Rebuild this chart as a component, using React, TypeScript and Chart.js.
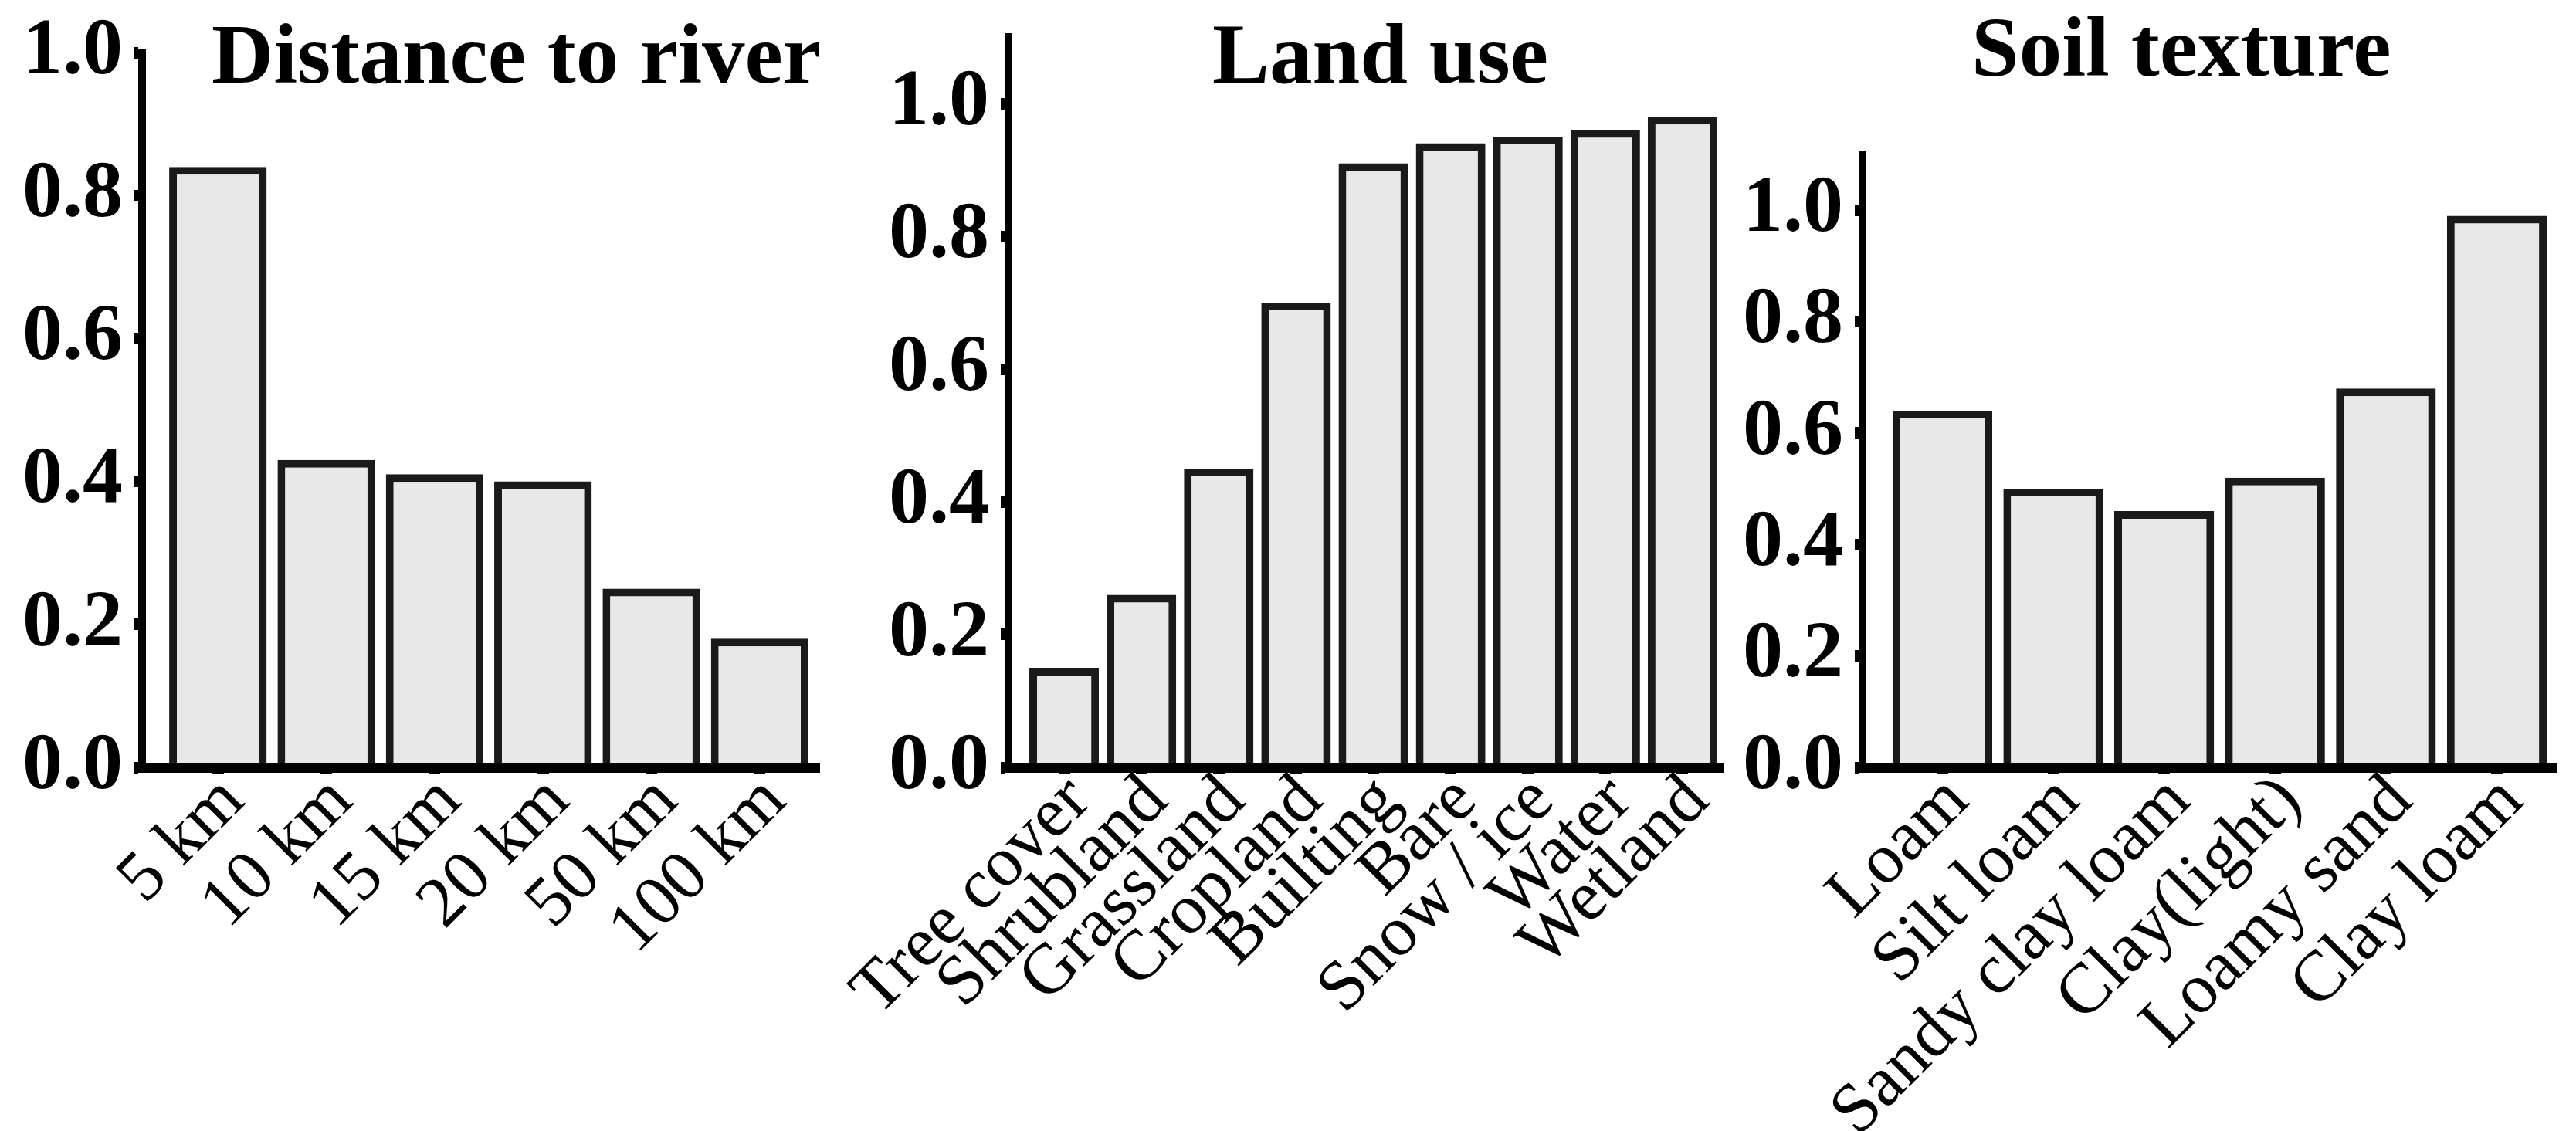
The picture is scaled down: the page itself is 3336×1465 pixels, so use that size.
import React, { useEffect, useRef } from "react";
import { Chart, registerables } from "chart.js";

Chart.register(...registerables);

// ---- data ----
const distLabels = ["5 km", "10 km", "15 km", "20 km", "50 km", "100 km"];
const distValues = [0.84, 0.43, 0.41, 0.4, 0.25, 0.18];

const landLabels = ["Tree cover", "Shrubland", "Grassland", "Cropland", "Builting", "Bare", "Snow / ice", "Water", "Wetland"];
const landValues = [0.15, 0.26, 0.45, 0.7, 0.91, 0.94, 0.95, 0.96, 0.98];

const soilLabels = ["Loam", "Silt loam", "Sandy clay loam", "Clay(light)", "Loamy sand", "Clay loam"];
const soilValues = [0.64, 0.5, 0.46, 0.52, 0.68, 0.99];

const yTicks = [0, 0.2, 0.4, 0.6, 0.8, 1.0];

// ---- layout / style ----
const W = 3336;
const H = 1465;
const BOTTOM = 994;
const Y_W = 170;
const SERIF = '"Liberation Serif", "Times New Roman", serif';

type PanelSpec = {
  title: string;
  labels: string[];
  values: number[];
  yMax: number;
  axisX: number;
  top: number;
  right: number;
  xMin: number;
  xMax: number;
  titleX: number;
  titleY: number;
};

const panels: PanelSpec[] = [
  { title: "Distance to river", labels: distLabels, values: distValues, yMax: 1.0, axisX: 184, top: 68, right: 1061, xMin: -0.7, xMax: 5.55, titleX: 274, titleY: 107 },
  { title: "Land use", labels: landLabels, values: landValues, yMax: 1.1, axisX: 1306, top: 48, right: 2232, xMin: -0.72, xMax: 8.53, titleX: 1570, titleY: 107 },
  { title: "Soil texture", labels: soilLabels, values: soilValues, yMax: 1.1, axisX: 2412, top: 200, right: 3311, xMin: -0.72, xMax: 5.54, titleX: 2553, titleY: 98 },
];

function Panel({ spec }: { spec: PanelSpec }) {
  const ref = useRef<HTMLCanvasElement | null>(null);
  useEffect(() => {
    if (!ref.current) return;
    const titlePlugin = {
      id: "panelTitle",
      afterDraw(chart: any) {
        const ctx = chart.ctx;
        ctx.save();
        ctx.font = `bold 111px ${SERIF}`;
        ctx.fillStyle = "#000";
        ctx.textAlign = "left";
        ctx.textBaseline = "alphabetic";
        ctx.fillText(spec.title, spec.titleX, spec.titleY);
        ctx.restore();
      },
    };
    const chart = new Chart(ref.current, {
      type: "bar",
      data: {
        datasets: [
          {
            data: spec.values.map((v, i) => ({ x: i, y: v })),
            backgroundColor: "#e8e8e8",
            borderColor: "#1a1a1a",
            borderWidth: 10,
            borderSkipped: "start",
            categoryPercentage: 1,
            barPercentage: 0.9,
          },
        ],
      },
      options: {
        responsive: false,
        animation: false,
        devicePixelRatio: 1,
        layout: { padding: { left: spec.axisX - Y_W, right: W - spec.right, top: spec.top, bottom: 0 } },
        plugins: { legend: { display: false }, tooltip: { enabled: false }, title: { display: false } },
        scales: {
          x: {
            type: "linear",
            min: spec.xMin,
            max: spec.xMax,
            offset: false,
            afterBuildTicks: (s: any) => {
              s.ticks = spec.labels.map((_, i) => ({ value: i }));
            },
            afterFit: (s: any) => {
              s.height = H - BOTTOM;
              s.paddingLeft = 0;
              s.paddingRight = 0;
            },
            grid: { display: true, offset: false, drawOnChartArea: false, drawTicks: true, tickLength: 9, tickWidth: 15, tickColor: "#000" },
            border: { display: true, color: "#000", width: 13, z: 1 },
            ticks: {
              autoSkip: false,
              maxRotation: 45,
              minRotation: 45,
              padding: -19,
              labelOffset: 20,
              color: "#000",
              font: { family: SERIF, size: 92 },
              callback: (v: any) => spec.labels[Math.round(Number(v))] ?? "",
            },
          },
          y: {
            type: "linear",
            min: 0,
            max: spec.yMax,
            afterBuildTicks: (s: any) => {
              s.ticks = yTicks.map((v) => ({ value: v }));
            },
            afterFit: (s: any) => {
              s.width = Y_W;
              s.paddingTop = 0;
              s.paddingBottom = 0;
            },
            grid: { display: true, drawOnChartArea: false, drawTicks: true, tickLength: 10, tickWidth: 15, tickColor: "#000" },
            border: { display: true, color: "#000", width: 10, z: 1 },
            ticks: {
              padding: 15,
              color: "#000",
              font: { family: SERIF, size: 104, weight: "bold" },
              callback: (v: any) => Number(v).toFixed(1),
            },
          },
        },
      },
      plugins: [titlePlugin],
    } as any);
    return () => chart.destroy();
  }, [spec]);
  return (
    <canvas
      ref={ref}
      width={W}
      height={H}
      style={{ position: "absolute", left: 0, top: 0, width: W, height: H, display: "block" }}
    />
  );
}

export default function App() {
  return (
    <div style={{ position: "absolute", left: 0, top: 0, width: W, height: H, background: "#fff", overflow: "hidden" }}>
      {panels.map((p) => (
        <Panel key={p.title} spec={p} />
      ))}
    </div>
  );
}
